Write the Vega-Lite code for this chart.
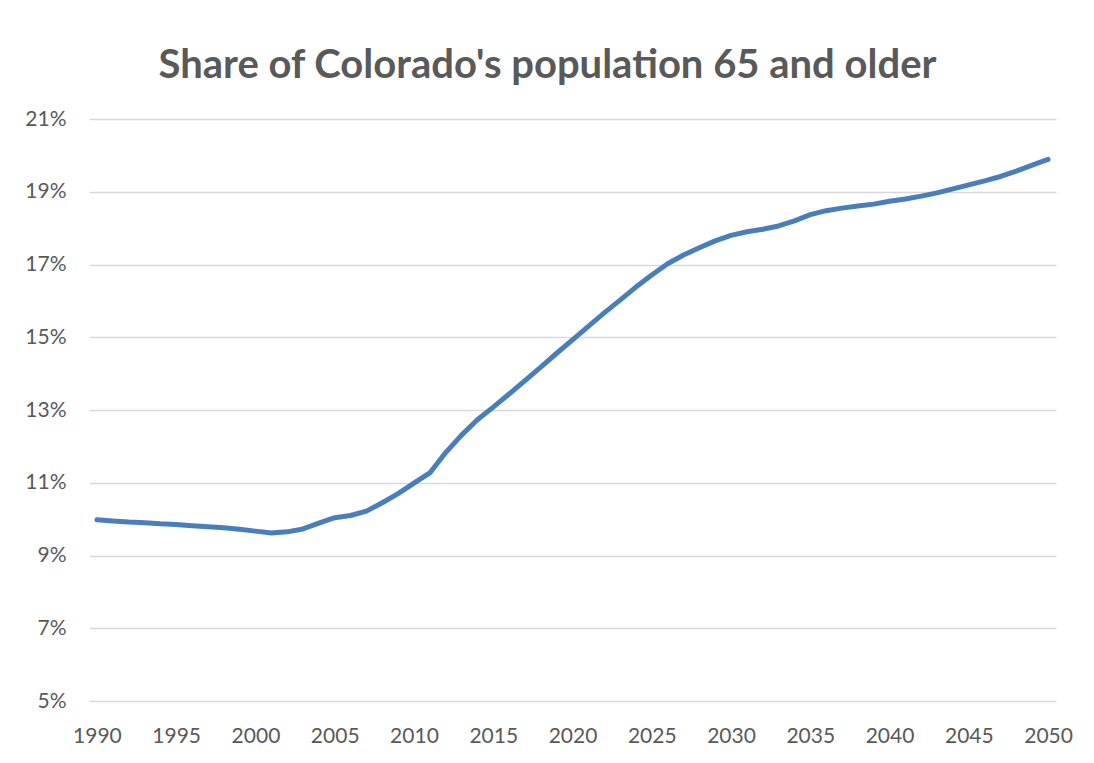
{
  "$schema": "https://vega.github.io/schema/vega-lite/v6.json",
  "width": 967,
  "height": 582,
  "autosize": {"type": "none"},
  "padding": {"left": 89, "top": 119, "right": 38, "bottom": 62},
  "background": "white",
  "title": {
    "text": "Share of Colorado's population 65 and older",
    "font": "Lato",
    "fontSize": 40,
    "fontWeight": "bold",
    "color": "#595959",
    "anchor": "middle",
    "dx": -25,
    "offset": 22
  },
  "data": {
    "values": [
      {"year": 1990, "share": 9.98},
      {"year": 1991, "share": 9.95},
      {"year": 1992, "share": 9.92},
      {"year": 1993, "share": 9.9},
      {"year": 1994, "share": 9.87},
      {"year": 1995, "share": 9.85},
      {"year": 1996, "share": 9.82},
      {"year": 1997, "share": 9.79},
      {"year": 1998, "share": 9.76},
      {"year": 1999, "share": 9.72},
      {"year": 2000, "share": 9.67},
      {"year": 2001, "share": 9.62},
      {"year": 2002, "share": 9.65},
      {"year": 2003, "share": 9.73},
      {"year": 2004, "share": 9.89},
      {"year": 2005, "share": 10.04},
      {"year": 2006, "share": 10.1},
      {"year": 2007, "share": 10.22},
      {"year": 2008, "share": 10.45},
      {"year": 2009, "share": 10.7},
      {"year": 2010, "share": 10.99},
      {"year": 2011, "share": 11.27},
      {"year": 2012, "share": 11.83},
      {"year": 2013, "share": 12.31},
      {"year": 2014, "share": 12.73},
      {"year": 2015, "share": 13.08},
      {"year": 2016, "share": 13.44},
      {"year": 2017, "share": 13.81},
      {"year": 2018, "share": 14.18},
      {"year": 2019, "share": 14.56},
      {"year": 2020, "share": 14.93},
      {"year": 2021, "share": 15.3},
      {"year": 2022, "share": 15.67},
      {"year": 2023, "share": 16.02},
      {"year": 2024, "share": 16.38},
      {"year": 2025, "share": 16.71},
      {"year": 2026, "share": 17.02},
      {"year": 2027, "share": 17.26},
      {"year": 2028, "share": 17.46},
      {"year": 2029, "share": 17.65},
      {"year": 2030, "share": 17.8},
      {"year": 2031, "share": 17.9},
      {"year": 2032, "share": 17.97},
      {"year": 2033, "share": 18.06},
      {"year": 2034, "share": 18.2},
      {"year": 2035, "share": 18.37},
      {"year": 2036, "share": 18.48},
      {"year": 2037, "share": 18.55},
      {"year": 2038, "share": 18.61},
      {"year": 2039, "share": 18.66},
      {"year": 2040, "share": 18.74},
      {"year": 2041, "share": 18.8},
      {"year": 2042, "share": 18.88},
      {"year": 2043, "share": 18.97},
      {"year": 2044, "share": 19.08},
      {"year": 2045, "share": 19.19},
      {"year": 2046, "share": 19.3},
      {"year": 2047, "share": 19.42},
      {"year": 2048, "share": 19.57},
      {"year": 2049, "share": 19.73},
      {"year": 2050, "share": 19.89}
    ]
  },
  "mark": {"type": "line", "color": "#4a7ebb", "strokeWidth": 5, "strokeCap": "round", "strokeJoin": "round"},
  "encoding": {
    "x": {
      "field": "year",
      "type": "quantitative",
      "scale": {"domain": [1989.5, 2050.5], "nice": false, "zero": false},
      "axis": {
        "title": null,
        "values": [1990, 1995, 2000, 2005, 2010, 2015, 2020, 2025, 2030, 2035, 2040, 2045, 2050],
        "format": "d",
        "grid": false,
        "ticks": false,
        "domain": false,
        "labelPadding": 24,
        "labelFont": "Lato",
        "labelFontSize": 21,
        "labelColor": "#595959",
        "labelFlush": false
      }
    },
    "y": {
      "field": "share",
      "type": "quantitative",
      "scale": {"domain": [5, 21], "nice": false, "zero": false},
      "axis": {
        "title": null,
        "values": [5, 7, 9, 11, 13, 15, 17, 19, 21],
        "labelExpr": "datum.value + '%'",
        "grid": true,
        "gridColor": "#d9d9d9",
        "gridWidth": 1.4,
        "ticks": false,
        "domain": false,
        "labelPadding": 23,
        "labelFont": "Lato",
        "labelFontSize": 21,
        "labelColor": "#595959"
      }
    }
  },
  "config": {"view": {"stroke": null}}
}
